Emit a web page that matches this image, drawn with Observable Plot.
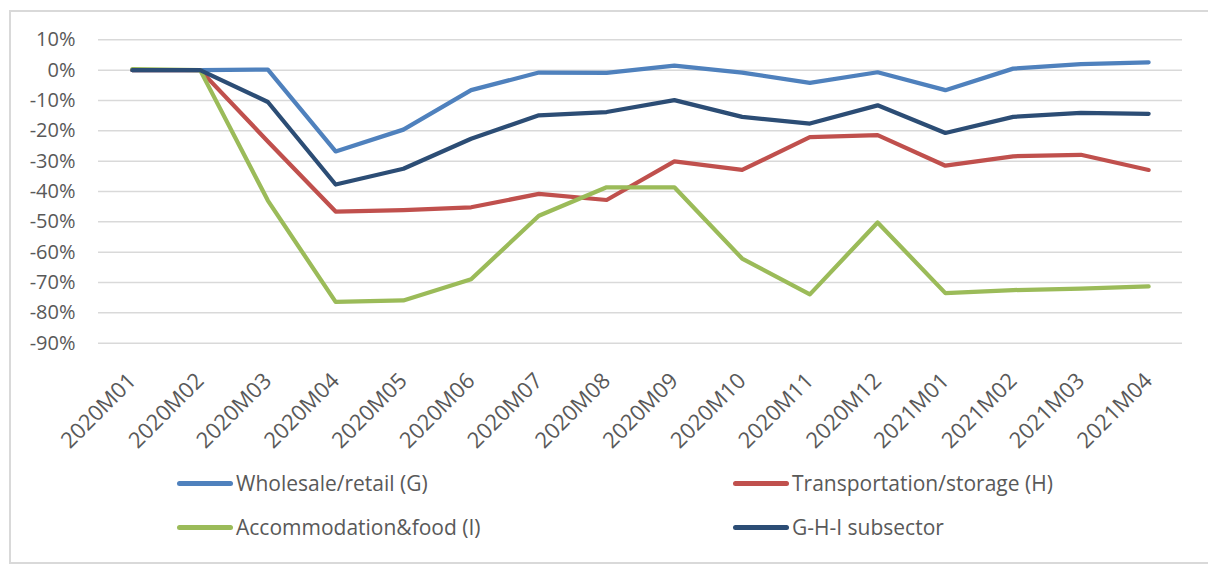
<!DOCTYPE html>
<html><head><meta charset="utf-8">
<script src="https://cdn.jsdelivr.net/npm/d3@7"></script>
<script src="https://cdn.jsdelivr.net/npm/@observablehq/plot@0.6"></script>
<style>
body{margin:0;background:#fff;}
#wrap{position:relative;width:1208px;height:565px;overflow:hidden;font-family:"Open Sans",sans-serif;}
#frame{position:absolute;left:9px;top:10px;width:1220px;height:554px;border:2px solid #d9d9d9;box-sizing:border-box;pointer-events:none;}
#chart{position:absolute;left:0;top:0;}
.leg{position:absolute;display:flex;align-items:center;height:30px;font-size:21px;color:#595959;white-space:nowrap;}
.sw{width:56px;height:5px;border-radius:3px;margin-right:3px;}
</style></head><body>
<div id="wrap"><div id="chart"></div><div id="legend"></div><div id="frame"></div></div>
<script>
const months = ["2020M01","2020M02","2020M03","2020M04","2020M05","2020M06","2020M07","2020M08","2020M09","2020M10","2020M11","2020M12","2021M01","2021M02","2021M03","2021M04"];
const seriesNames = ["Wholesale/retail (G)","Transportation/storage (H)","Accommodation&food (I)","G-H-I subsector"];
const seriesColors = ["#4F81BD","#C0504D","#9BBB59","#2C4D75"];
const wholesale =      [0, 0, 0.2, -26.8, -19.6, -6.6, -0.8, -0.9, 1.5, -0.8, -4.2, -0.7, -6.6, 0.5, 2.0, 2.6];
const transportation = [0, 0, -23.5, -46.6, -46.1, -45.2, -40.8, -42.8, -30.1, -32.9, -22.1, -21.4, -31.5, -28.4, -27.9, -32.9];
const accommodation =  [0.3, 0, -43.0, -76.4, -75.9, -68.9, -48.0, -38.6, -38.6, -62.1, -73.9, -50.2, -73.5, -72.5, -72.0, -71.3];
const ghi =            [0, 0, -10.5, -37.7, -32.5, -22.6, -14.9, -13.8, -9.9, -15.4, -17.6, -11.6, -20.7, -15.4, -14.1, -14.4];
const yTicks = [10, 0, -10, -20, -30, -40, -50, -60, -70, -80, -90];

const allSeries = [wholesale, transportation, accommodation, ghi];
const data = [];
allSeries.forEach((vals, si) => vals.forEach((v, i) => data.push({series: seriesNames[si], month: months[i], value: v})));

const chart = Plot.plot({
  width: 1208, height: 460,
  marginLeft: 98, marginRight: 26, marginTop: 39.3, marginBottom: 460 - 342.7,
  style: {background: "transparent", fontFamily: "'Open Sans', sans-serif", fontSize: "20px", color: "#595959"},
  x: {type: "point", domain: months, padding: 0.5, round: false, axis: null},
  y: {domain: [-90, 10], axis: null},
  color: {domain: seriesNames, range: seriesColors},
  marks: [
    Plot.gridY(yTicks, {stroke: "#d9d9d9", strokeOpacity: 1, strokeWidth: 1.5}),
    Plot.axisY(yTicks, {tickSize: 0, tickPadding: 23, tickFormat: d => d + "%", fill: "#595959", fontSize: 20, label: null}),
    Plot.axisX(months, {tickSize: 0, tickRotate: -45, tickPadding: 0, dy: 34, dx: 0, fill: "#595959", fontSize: 22, label: null}),
    Plot.line(data, {x: "month", y: "value", z: "series", stroke: "series", strokeWidth: 4.25, strokeLinecap: "round", strokeLinejoin: "round"})
  ]
});
document.getElementById("chart").appendChild(chart);

const legend = document.getElementById("legend");
const legPos = [[177, 483], [733, 483], [177, 527], [733, 527]];
seriesNames.forEach((name, i) => {
  const item = document.createElement("div");
  item.className = "leg";
  item.style.left = legPos[i][0] + "px";
  item.style.top = (legPos[i][1] - 15) + "px";
  const sw = document.createElement("div");
  sw.className = "sw";
  sw.style.background = seriesColors[i];
  const tx = document.createElement("span");
  tx.textContent = name;
  item.appendChild(sw); item.appendChild(tx);
  legend.appendChild(item);
});
</script>
</body></html>
